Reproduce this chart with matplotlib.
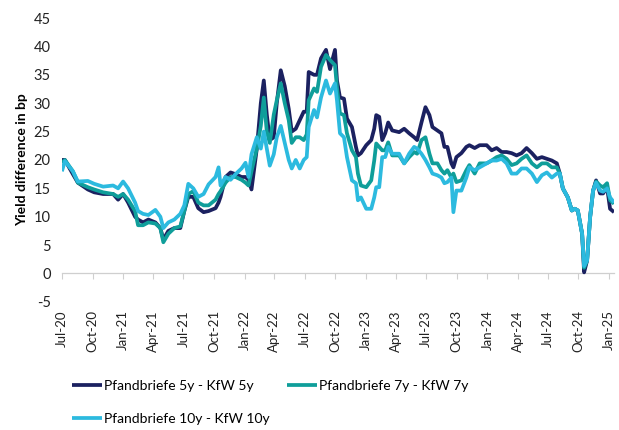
import matplotlib.pyplot as plt
import matplotlib.dates as mdates
import pandas as pd

# spread between Pfandbriefe and KfW yields, bp
dates = [
    "2020-07-01", "2020-07-10", "2020-08-03", "2020-08-18", "2020-09-17", "2020-10-06",
    "2020-11-02", "2020-12-02", "2020-12-17", "2021-01-01", "2021-01-16", "2021-02-06",
    "2021-02-15", "2021-03-02", "2021-03-18", "2021-04-08", "2021-04-23", "2021-05-02",
    "2021-05-17", "2021-06-04", "2021-06-22", "2021-07-04", "2021-07-16", "2021-07-31",
    "2021-08-15", "2021-08-31", "2021-09-15", "2021-10-06", "2021-10-15", "2021-10-21",
    "2021-11-05", "2021-11-20", "2021-12-05", "2021-12-23", "2022-01-04", "2022-01-13",
    "2022-01-22", "2022-02-07", "2022-02-19", "2022-02-28", "2022-03-09", "2022-03-18",
    "2022-03-30", "2022-04-08", "2022-04-20", "2022-05-02", "2022-05-14", "2022-05-23",
    "2022-06-04", "2022-06-16", "2022-06-28", "2022-07-07", "2022-07-13", "2022-07-29",
    "2022-08-07", "2022-08-19", "2022-09-03", "2022-09-15", "2022-09-30", "2022-10-06",
    "2022-10-15", "2022-10-27", "2022-11-05", "2022-11-20", "2022-12-02", "2022-12-08",
    "2022-12-17", "2023-01-02", "2023-01-17", "2023-01-26", "2023-02-01", "2023-02-10",
    "2023-02-19", "2023-02-28", "2023-03-09", "2023-03-21", "2023-04-11", "2023-04-26",
    "2023-05-11", "2023-05-26", "2023-06-04", "2023-06-17", "2023-06-29", "2023-07-11",
    "2023-07-20", "2023-08-04", "2023-08-16", "2023-08-25", "2023-09-03", "2023-09-15",
    "2023-09-21", "2023-09-30", "2023-10-15", "2023-10-30", "2023-11-08", "2023-11-24",
    "2023-12-09", "2023-12-30", "2024-01-14", "2024-01-29", "2024-02-13", "2024-02-28",
    "2024-03-14", "2024-03-29", "2024-04-13", "2024-04-28", "2024-05-14", "2024-05-29",
    "2024-06-13", "2024-06-28", "2024-07-13", "2024-07-28", "2024-08-06", "2024-08-15",
    "2024-08-30", "2024-09-11", "2024-09-20", "2024-09-29", "2024-10-12", "2024-10-18",
    "2024-10-27", "2024-11-05", "2024-11-14", "2024-11-23", "2024-12-05", "2024-12-14",
    "2024-12-26", "2025-01-04", "2025-01-16",
]

pf_5y = [
    20, 20, 17.5, 16, 14.8, 14.3, 14, 14, 13, 14, 12.5, 10,
    9.5, 9, 9.5, 9, 8, 6, 7.5, 8, 8, 11, 13.5, 13.5,
    11.5, 10.8, 11, 11.5, 12.5, 13.5, 17, 17.8, 17.5, 17, 17, 16.5,
    14.8, 22, 30, 34, 28, 23.5, 24, 30, 35.8, 33, 29, 25,
    25.5, 27, 28.5, 28.5, 35.5, 35, 35, 37.9, 39.4, 36, 39.4, 34,
    31, 30.8, 27.3, 25.8, 22.3, 20.8, 21.2, 22.6, 23.5, 25.5, 27.9, 27.6,
    23.5, 24.7, 26.6, 25.2, 24.9, 25.5, 24.7, 24, 23.5, 26.6, 29.3, 27.9,
    25.8, 25.2, 24.7, 22.3, 22.3, 19.4, 18.7, 20.5, 21.2, 22.3, 22.6, 22.1,
    22.6, 22.6, 21.7, 22.1, 21.4, 21.4, 21.2, 20.8, 21.2, 22.1, 21.2, 20.2,
    20.5, 20.2, 19.9, 19.4, 17.6, 15, 13.4, 11.1, 11.4, 11.1, 7, 0.2,
    2.3, 9.9, 14.6, 16.4, 14.1, 14.1, 15.2, 11.4, 10.8,
]

pf_7y = [
    19.5, 20, 18, 16, 15.2, 14.8, 14.3, 14, 13.5, 14, 13, 11,
    8.5, 8.5, 9, 8.8, 8, 5.5, 7, 8, 8.3, 11, 14, 14.5,
    12.5, 12, 12, 13, 14, 14.5, 16, 17, 17, 16.5, 16, 15.5,
    18, 22, 26, 31, 25, 23, 28, 30.5, 33.5, 30, 27, 23,
    24, 24, 23.5, 24.5, 30.5, 32.6, 32, 36.4, 38.5, 37.6, 36.7, 32.8,
    28.2, 27.9, 24.7, 21.7, 20.5, 17.6, 15.5, 15.2, 16.4, 19.9, 22.9, 22.3,
    21.7, 21.7, 23.1, 20.8, 20.8, 19.4, 20.5, 21.4, 21.1, 23.5, 24, 21.1,
    19.4, 19.4, 18.2, 17.6, 18.2, 16.9, 17.6, 16.1, 16.4, 18.2, 19.1, 17.6,
    19.4, 19.4, 19.9, 20.5, 20.8, 20.2, 19.1, 19.4, 20.2, 20.8, 19.4, 18.7,
    19.4, 19.4, 18.7, 18.7, 17.6, 15, 13.4, 11.1, 11.4, 11.1, 7, 1,
    2.3, 9.9, 14.6, 16.2, 15.5, 15.2, 15.9, 12.9, 12.3,
]

pf_10y = [
    18, 19.8, 18, 16.2, 16.3, 15.8, 15.3, 15.5, 15, 16.2, 15, 12.5,
    11, 10.5, 10.3, 11.2, 10, 8, 9, 9.5, 10.5, 12, 15.8, 15,
    13.5, 14, 15.7, 17, 18.7, 15.5, 17, 16.5, 17.5, 18.5, 19.5, 17,
    21, 24, 22, 25, 22, 19, 21, 24, 26, 23, 20, 18.5,
    20, 18.5, 20, 20.5, 25.8, 28.8, 27.5, 31, 34, 31.7, 33.5, 30.5,
    24.7, 24, 20.5, 16.4, 15.9, 12.9, 13.4, 11.4, 11.4, 13.4, 15.2, 15.2,
    20.5, 20.5, 22.3, 21.1, 21.1, 19.4, 21.1, 22.3, 22, 21.1, 20, 18.7,
    17.6, 17.3, 16.9, 15.9, 16.1, 16.9, 10.8, 14.6, 14.6, 16.9, 18.7, 18.2,
    18.7, 19.4, 19.9, 19.9, 20.2, 19.4, 17.6, 17.6, 18.5, 18.5, 17.6, 16.1,
    17.3, 17.8, 16.9, 17.6, 17.6, 15, 13.4, 11.1, 11.4, 11.1, 7, 1.3,
    2.3, 9.9, 14.6, 16, 14.6, 14.4, 15, 13.4, 12.5,
]

series = [
    ("Pfandbriefe 5y - KfW 5y", pf_5y, "#1b2160"),
    ("Pfandbriefe 7y - KfW 7y", pf_7y, "#0f9e9a"),
    ("Pfandbriefe 10y - KfW 10y", pf_10y, "#2cbadf"),
]

plt.rcParams["font.family"] = ["Lato", "DejaVu Sans"]
plt.rcParams["axes.unicode_minus"] = False

x = pd.to_datetime(dates)

fig = plt.figure(figsize=(6.19, 4.30), dpi=100)
ax = fig.add_axes([0.1, 0.298, 0.892, 0.66])

lines = []
for name, vals, col in series:
    ln, = ax.plot(x, vals, color=col, lw=2.7, label=name,
                  solid_joinstyle="round", solid_capstyle="butt")
    lines.append(ln)

ax.set_ylim(-5, 45)
ax.set_yticks(range(-5, 50, 5))
ax.set_xlim(pd.Timestamp("2020-07-01"), pd.Timestamp("2025-01-16"))

ticks = pd.date_range("2020-07-01", "2025-01-01", freq="3MS")
ax.set_xticks(ticks)
ax.xaxis.set_major_formatter(mdates.DateFormatter("%b-%y"))
ax.tick_params(axis="x", length=0, labelrotation=90, labelsize=9.5, pad=6, colors="#222222")
ax.tick_params(axis="y", length=0, labelsize=10.5, pad=8, colors="#222222")

for s in ax.spines.values():
    s.set_visible(False)

# zero line with tick marks, labels stay at the bottom
zero = ax.secondary_xaxis(0.1)
zero.set_xticks(ticks)
zero.tick_params(axis="x", length=4, width=0.8, color="#cfcfcf", labelbottom=False)
zero.spines["bottom"].set_color("#cfcfcf")
zero.spines["bottom"].set_linewidth(0.9)

ax.set_ylabel("Yield difference in bp", fontsize=10, fontweight="bold", labelpad=4)

# legend fills column-wise, so reorder to get 5y, 7y on the first row
order = [lines[0], lines[2], lines[1]]
fig.legend(handles=order, loc="upper left", bbox_to_anchor=(0.108, 0.13), ncol=2,
           frameon=False, fontsize=10, handlelength=2.15, handletextpad=0.1,
           columnspacing=1.3, labelspacing=1.55, borderaxespad=0)

fig.savefig("out.png", dpi=100)
